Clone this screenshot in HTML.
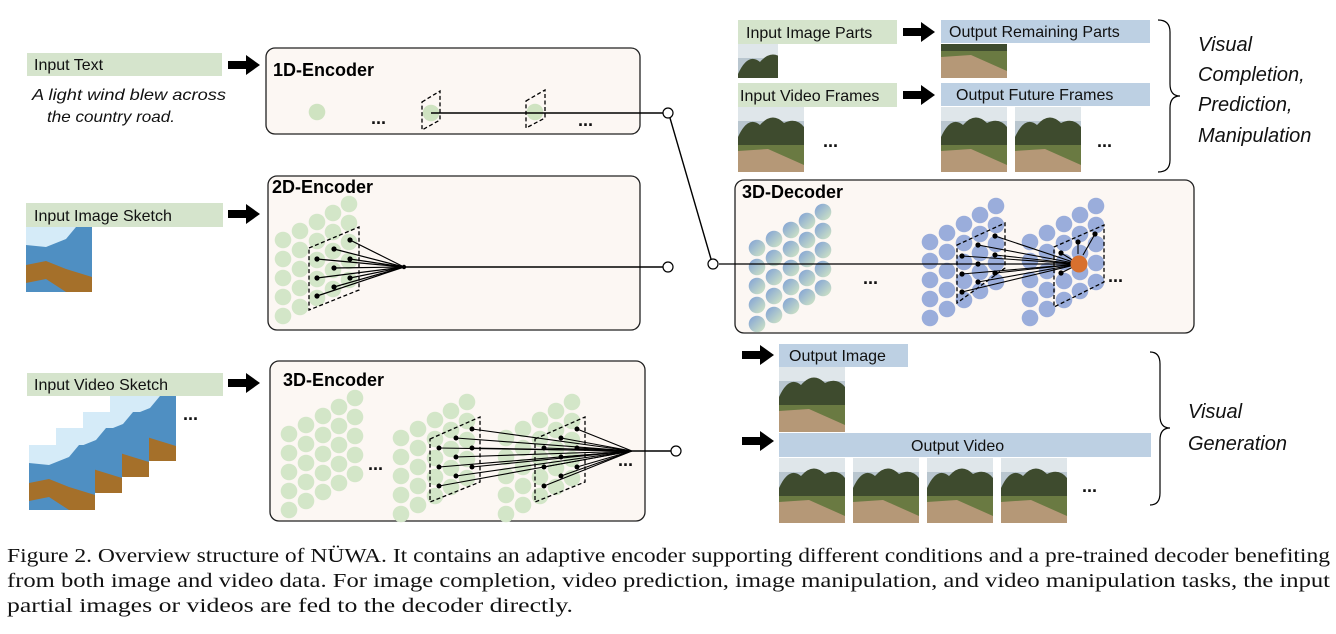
<!DOCTYPE html>
<html><head><meta charset="utf-8"><style>
body{margin:0;background:#fff;width:1336px;height:634px;overflow:hidden}
svg{display:block}
.l{font-family:"Liberation Sans",sans-serif;font-size:16px;fill:#111}
.t{font-family:"Liberation Sans",sans-serif;font-size:18px;font-weight:bold;fill:#000}
.i{font-family:"Liberation Sans",sans-serif;font-size:16px;font-style:italic;fill:#111}
.v{font-family:"Liberation Sans",sans-serif;font-size:20px;font-style:italic;fill:#111}
.c{font-family:"Liberation Serif",serif;font-size:20px;fill:#111}
.d{font-family:"Liberation Sans",sans-serif;font-size:18px;font-weight:bold;fill:#111}
</style></head><body>
<svg width="1336" height="634" viewBox="0 0 1336 634" xmlns="http://www.w3.org/2000/svg">
<defs>
<linearGradient id="gb" x1="0" y1="0" x2="1" y2="1"><stop offset="0" stop-color="#7fa0d6"/><stop offset="1" stop-color="#d4e8c4"/></linearGradient>
<g id="s">
<circle cx="0" cy="0" r="8.3"/><circle cx="0" cy="19" r="8.3"/><circle cx="0" cy="38" r="8.3"/><circle cx="0" cy="57" r="8.3"/><circle cx="0" cy="76" r="8.3"/>
<circle cx="17" cy="-9" r="8.3"/><circle cx="17" cy="10" r="8.3"/><circle cx="17" cy="29" r="8.3"/><circle cx="17" cy="48" r="8.3"/><circle cx="17" cy="67" r="8.3"/>
<circle cx="34" cy="-18" r="8.3"/><circle cx="34" cy="1" r="8.3"/><circle cx="34" cy="20" r="8.3"/><circle cx="34" cy="39" r="8.3"/><circle cx="34" cy="58" r="8.3"/>
<circle cx="50" cy="-27" r="8.3"/><circle cx="50" cy="-8" r="8.3"/><circle cx="50" cy="11" r="8.3"/><circle cx="50" cy="30" r="8.3"/><circle cx="50" cy="49" r="8.3"/>
<circle cx="66" cy="-36" r="8.3"/><circle cx="66" cy="-17" r="8.3"/><circle cx="66" cy="2" r="8.3"/><circle cx="66" cy="21" r="8.3"/><circle cx="66" cy="40" r="8.3"/>
</g>
<g id="ph">
<rect width="66" height="65" fill="#b9c6cf"/>
<rect y="0" width="66" height="14" fill="#dfe6ea"/>
<path d="M0 30 Q10 8 22 18 Q34 4 46 16 Q58 10 66 20 L66 42 L0 42Z" fill="#3e4b2e"/>
<rect y="38" width="66" height="27" fill="#6a7a42"/>
<path d="M0 44 L30 42 L66 58 L66 65 L0 65Z" fill="#b59877"/>
</g>
<g id="sk">
<rect width="66" height="65" fill="#4f8fc2"/>
<path d="M0 0 H50 L40 12 L20 20 L0 18Z" fill="#d5ebf8"/>
<path d="M0 38 L20 34 L40 42 L66 50 L66 65 L40 65 L20 52 L0 56Z" fill="#a5702a"/>
</g>
<g id="ar"><path d="M0 -4 H18 V-10 L32 0 L18 10 V4 H0Z" fill="#000"/></g>
</defs>

<rect x="27" y="53" width="195" height="23" fill="#d5e4cc"/><text class="l" x="34" y="70">Input Text</text>
<use href="#ar" x="228" y="65"/>
<text class="i" x="32" y="100" textLength="194" lengthAdjust="spacingAndGlyphs">A light wind blew across</text>
<text class="i" x="47" y="122" textLength="128" lengthAdjust="spacingAndGlyphs">the country road.</text>

<rect x="26" y="203" width="197" height="24" fill="#d5e4cc"/><text class="l" x="34" y="221">Input Image Sketch</text>
<use href="#ar" x="228" y="214"/>
<use href="#sk" x="26" y="227"/>

<rect x="27" y="373" width="196" height="23" fill="#d5e4cc"/><text class="l" x="34" y="390">Input Video Sketch</text>
<use href="#ar" x="228" y="383"/>
<use href="#sk" x="110" y="396"/>
<use href="#sk" x="83" y="412"/>
<use href="#sk" x="56" y="428"/>
<use href="#sk" x="29" y="445"/>
<text class="d" x="183" y="420">...</text>

<rect x="266" y="48" width="374" height="86" rx="9" fill="#fcf7f3" stroke="#222" stroke-width="1.3"/>
<text class="t" x="273" y="76">1D-Encoder</text>
<circle cx="317" cy="112" r="8.3" fill="#cfe3c1"/>
<text class="d" x="371" y="124">...</text>
<circle cx="431" cy="113" r="8.3" fill="#cfe3c1"/>
<path d="M422 102 L440 91 L440 120 L422 130Z" fill="none" stroke="#000" stroke-dasharray="4,2.5" stroke-width="1.3"/>
<circle cx="535" cy="112" r="8.3" fill="#cfe3c1"/>
<path d="M526 101 L545 90 L545 118 L526 128Z" fill="none" stroke="#000" stroke-dasharray="4,2.5" stroke-width="1.3"/>
<text class="d" x="578" y="126">...</text>
<line x1="431" y1="113" x2="663" y2="113" stroke="#000" stroke-width="1.4"/>
<circle cx="668" cy="113" r="5" fill="#fff" stroke="#000" stroke-width="1.2"/>
<line x1="670" y1="118" x2="711" y2="259" stroke="#000" stroke-width="1.4"/>

<rect x="268" y="176" width="372" height="154" rx="9" fill="#fcf7f3" stroke="#222" stroke-width="1.3"/>
<text class="t" x="272" y="193">2D-Encoder</text>
<use href="#s" x="283" y="240" fill="#d3e6c8"/>
<path d="M309 248 L359 227 L359 290 L309 310Z" fill="none" stroke="#000" stroke-dasharray="4,2.5" stroke-width="1.3"/>
<g stroke="#000" stroke-width="1.2">
<line x1="317" y1="259" x2="404" y2="267"/><line x1="317" y1="278" x2="404" y2="267"/><line x1="317" y1="296" x2="404" y2="267"/>
<line x1="334" y1="249" x2="404" y2="267"/><line x1="334" y1="268" x2="404" y2="267"/><line x1="334" y1="287" x2="404" y2="267"/>
<line x1="350" y1="240" x2="404" y2="267"/><line x1="350" y1="259" x2="404" y2="267"/><line x1="350" y1="278" x2="404" y2="267"/>
<line x1="404" y1="267" x2="663" y2="267" stroke-width="1.4"/>
</g>
<g fill="#000"><circle cx="317" cy="259" r="2.6"/><circle cx="317" cy="278" r="2.6"/><circle cx="317" cy="296" r="2.6"/><circle cx="334" cy="249" r="2.6"/><circle cx="334" cy="268" r="2.6"/><circle cx="334" cy="287" r="2.6"/><circle cx="350" cy="240" r="2.6"/><circle cx="350" cy="259" r="2.6"/><circle cx="350" cy="278" r="2.6"/><circle cx="404" cy="267" r="2.2"/></g>
<circle cx="668" cy="267" r="5" fill="#fff" stroke="#000" stroke-width="1.2"/>

<rect x="270" y="361" width="375" height="160" rx="9" fill="#fcf7f3" stroke="#222" stroke-width="1.3"/>
<text class="t" x="283" y="386">3D-Encoder</text>
<use href="#s" x="289" y="434" fill="#d3e6c8"/>
<use href="#s" x="401" y="438" fill="#d3e6c8"/>
<use href="#s" x="506" y="438" fill="#d3e6c8"/>
<text class="d" x="368" y="470">...</text>
<path d="M430 439 L480 417 L480 482 L430 502Z" fill="none" stroke="#000" stroke-dasharray="4,2.5" stroke-width="1.3"/>
<path d="M535 439 L585 417 L585 482 L535 502Z" fill="none" stroke="#000" stroke-dasharray="4,2.5" stroke-width="1.3"/>
<g stroke="#000" stroke-width="1.1">
<line x1="439" y1="448" x2="632" y2="451"/><line x1="439" y1="467" x2="632" y2="451"/><line x1="439" y1="486" x2="632" y2="451"/>
<line x1="456" y1="438" x2="632" y2="451"/><line x1="456" y1="457" x2="632" y2="451"/><line x1="456" y1="476" x2="632" y2="451"/>
<line x1="472" y1="429" x2="632" y2="451"/><line x1="472" y1="448" x2="632" y2="451"/><line x1="472" y1="467" x2="632" y2="451"/>
<line x1="544" y1="448" x2="632" y2="451"/><line x1="544" y1="467" x2="632" y2="451"/><line x1="544" y1="486" x2="632" y2="451"/>
<line x1="561" y1="438" x2="632" y2="451"/><line x1="561" y1="457" x2="632" y2="451"/><line x1="561" y1="476" x2="632" y2="451"/>
<line x1="577" y1="429" x2="632" y2="451"/><line x1="577" y1="448" x2="632" y2="451"/><line x1="577" y1="467" x2="632" y2="451"/>
<line x1="632" y1="451" x2="671" y2="451" stroke-width="1.4"/>
</g>
<g fill="#000"><circle cx="439" cy="448" r="2.5"/><circle cx="439" cy="467" r="2.5"/><circle cx="439" cy="486" r="2.5"/><circle cx="456" cy="438" r="2.5"/><circle cx="456" cy="457" r="2.5"/><circle cx="456" cy="476" r="2.5"/><circle cx="472" cy="429" r="2.5"/><circle cx="472" cy="448" r="2.5"/><circle cx="472" cy="467" r="2.5"/><circle cx="544" cy="448" r="2.5"/><circle cx="544" cy="467" r="2.5"/><circle cx="544" cy="486" r="2.5"/><circle cx="561" cy="438" r="2.5"/><circle cx="561" cy="457" r="2.5"/><circle cx="561" cy="476" r="2.5"/><circle cx="577" cy="429" r="2.5"/><circle cx="577" cy="448" r="2.5"/><circle cx="577" cy="467" r="2.5"/></g>
<text class="d" x="618" y="466">...</text>
<circle cx="676" cy="451" r="5" fill="#fff" stroke="#000" stroke-width="1.2"/>

<rect x="738" y="20" width="159" height="24" fill="#d5e4cc"/><text class="l" x="746" y="38">Input Image Parts</text>
<use href="#ar" x="903" y="32"/>
<rect x="941" y="20" width="209" height="23" fill="#bdd0e3"/><text class="l" x="949" y="37">Output Remaining Parts</text>
<svg x="738" y="44" width="40" height="34" viewBox="0 0 40 34" overflow="hidden"><use href="#ph"/></svg>
<svg x="941" y="44" width="66" height="34" viewBox="0 31 66 34"><use href="#ph"/></svg>
<rect x="738" y="83" width="159" height="24" fill="#d5e4cc"/><text class="l" x="740" y="101">Input Video Frames</text>
<use href="#ar" x="903" y="95"/>
<rect x="941" y="83" width="209" height="23" fill="#bdd0e3"/><text class="l" x="956" y="100">Output Future Frames</text>
<use href="#ph" x="738" y="107"/>
<text class="d" x="823" y="147">...</text>
<use href="#ph" x="941" y="107"/>
<use href="#ph" x="1015" y="107"/>
<text class="d" x="1097" y="147">...</text>
<path d="M1158 20 Q1170 20 1170 32 V84 Q1170 96 1180 96 Q1170 96 1170 108 V160 Q1170 172 1158 172" fill="none" stroke="#000" stroke-width="1.2"/>
<text class="v" x="1198" y="51">Visual</text>
<text class="v" x="1198" y="81">Completion,</text>
<text class="v" x="1198" y="111">Prediction,</text>
<text class="v" x="1198" y="142">Manipulation</text>

<rect x="735" y="180" width="459" height="153" rx="9" fill="#fcf7f3" stroke="#222" stroke-width="1.3"/>
<text class="t" x="742" y="198">3D-Decoder</text>
<use href="#s" x="757" y="248" fill="url(#gb)"/>
<use href="#s" x="930" y="242" fill="#9aaddb"/>
<use href="#s" x="1030" y="242" fill="#9aaddb"/>
<line x1="719" y1="264" x2="1079" y2="264" stroke="#000" stroke-width="1.3"/>
<circle cx="713" cy="264" r="5" fill="#fff" stroke="#000" stroke-width="1.2"/>
<text class="d" x="863" y="284">...</text>
<path d="M957 245 L1005 223 L1005 268 L957 303Z" fill="none" stroke="#000" stroke-dasharray="4,2.5" stroke-width="1.3"/>
<path d="M1054 247 L1104 225 L1104 282 L1054 307Z" fill="none" stroke="#000" stroke-dasharray="4,2.5" stroke-width="1.3"/>
<g stroke="#000" stroke-width="1.1">
<line x1="962" y1="256" x2="1079" y2="264"/><line x1="962" y1="274" x2="1079" y2="264"/><line x1="962" y1="292" x2="1079" y2="264"/>
<line x1="978" y1="245" x2="1079" y2="264"/><line x1="978" y1="264" x2="1079" y2="264"/><line x1="978" y1="282" x2="1079" y2="264"/>
<line x1="995" y1="236" x2="1079" y2="264"/><line x1="995" y1="255" x2="1079" y2="264"/><line x1="995" y1="273" x2="1079" y2="264"/>
<line x1="1061" y1="253" x2="1079" y2="264"/><line x1="1061" y1="273" x2="1079" y2="264"/>
<line x1="1078" y1="242" x2="1078" y2="254"/><line x1="1095" y1="234" x2="1083" y2="255"/>
</g>
<g fill="#000"><circle cx="962" cy="256" r="2.6"/><circle cx="962" cy="274" r="2.6"/><circle cx="962" cy="292" r="2.6"/><circle cx="978" cy="245" r="2.6"/><circle cx="978" cy="264" r="2.6"/><circle cx="978" cy="282" r="2.6"/><circle cx="995" cy="236" r="2.6"/><circle cx="995" cy="255" r="2.6"/><circle cx="995" cy="273" r="2.6"/><circle cx="1061" cy="253" r="2.6"/><circle cx="1061" cy="273" r="2.6"/><circle cx="1078" cy="242" r="2.6"/><circle cx="1095" cy="234" r="2.6"/></g>
<circle cx="1079" cy="264" r="8.5" fill="#d8702e"/>
<text class="d" x="1108" y="282">...</text>

<use href="#ar" x="742" y="355"/>
<rect x="779" y="344" width="129" height="23" fill="#bdd0e3"/><text class="l" x="789" y="361">Output Image</text>
<use href="#ph" x="779" y="367"/>
<use href="#ar" x="742" y="441"/>
<rect x="779" y="433" width="372" height="24" fill="#bdd0e3"/><text class="l" x="911" y="451">Output Video</text>
<use href="#ph" x="779" y="458"/>
<use href="#ph" x="853" y="458"/>
<use href="#ph" x="927" y="458"/>
<use href="#ph" x="1001" y="458"/>
<text class="d" x="1082" y="492">...</text>
<path d="M1150 352 Q1160 352 1160 364 V416 Q1160 428 1170 428 Q1160 428 1160 440 V493 Q1160 505 1150 505" fill="none" stroke="#000" stroke-width="1.2"/>
<text class="v" x="1188" y="418">Visual</text>
<text class="v" x="1188" y="450">Generation</text>

<text class="c" x="7" y="562" textLength="1323" lengthAdjust="spacingAndGlyphs">Figure 2. Overview structure of NÜWA. It contains an adaptive encoder supporting different conditions and a pre-trained decoder benefiting</text>
<text class="c" x="7" y="587" textLength="1323" lengthAdjust="spacingAndGlyphs">from both image and video data.  For image completion, video prediction, image manipulation, and video manipulation tasks, the input</text>
<text class="c" x="7" y="612" textLength="566" lengthAdjust="spacingAndGlyphs">partial images or videos are fed to the decoder directly.</text>
</svg>
</body></html>
